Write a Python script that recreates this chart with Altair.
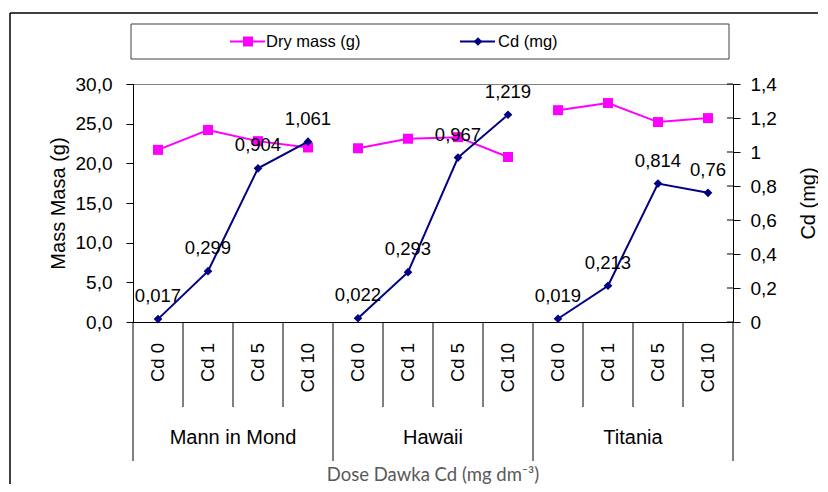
import altair as alt
import pandas as pd

cultivars = ["Mann in Mond", "Hawaii", "Titania"]
doses = ["Cd 0", "Cd 1", "Cd 5", "Cd 10"]
dry_mass = [21.7, 24.2, 22.8, 22.0, 21.9, 23.1, 23.3, 20.8, 26.7, 27.6, 25.2, 25.7]
cd_mg = [0.017, 0.299, 0.904, 1.061, 0.022, 0.293, 0.967, 1.219, 0.019, 0.213, 0.814, 0.76]
series = ["Dry mass (g)", "Cd (mg)"]
left_ticks = [0, 5, 10, 15, 20, 25, 30]
right_ticks = [0, 0.2, 0.4, 0.6, 0.8, 1, 1.2, 1.4]
x_title = "Dose Dawka Cd (mg dm\u207b\u00b3)"

PINK = "#FF00FF"
NAVY = "#000080"
FONT = "Liberation Sans"

rows = []
i = 0
for c in cultivars:
    for d in doses:
        rows.append({"pos": i + 0.5, "cultivar": c, "dose": d,
                     "mass": dry_mass[i], "cd": cd_mg[i],
                     "cdlab": f"{cd_mg[i]:g}".replace(".", ",")})
        i += 1
df = pd.DataFrame(rows)

n = len(df)
sep_small = pd.DataFrame({"b": [k for k in range(1, n) if k % len(doses) != 0]})
sep_group = pd.DataFrame({"b": [k * len(doses) for k in range(len(cultivars) + 1)]})
groups = pd.DataFrame({"cultivar": cultivars,
                       "mid": [k * len(doses) + len(doses) / 2 for k in range(len(cultivars))]})
rticks = pd.DataFrame({"v": right_ticks})

xscale = alt.Scale(domain=[0, n], nice=False, zero=False)
xenc = alt.X("pos:Q", scale=xscale,
             axis=alt.Axis(labels=False, ticks=False, grid=False, title=None,
                           domainColor="black", domainWidth=1))
W, H = 600, 238

left_axis = alt.Axis(orient="left", values=left_ticks, tickCount=len(left_ticks),
                     grid=False, labelOverlap=False,
                     labelExpr="replace(format(datum.value, '.1f'), '.', ',')",
                     labelFont=FONT, labelFontSize=19, labelColor="black",
                     tickColor="black", tickSize=7, labelPadding=14,
                     domainColor="black", title="Mass Masa (g)",
                     titleFont=FONT, titleFontSize=20, titleFontWeight="normal",
                     titleColor="black", titleX=-75, titleY=H / 2,
                     titleBaseline="middle", titleAlign="center", titleAngle=270)
right_axis = alt.Axis(orient="right", values=right_ticks, tickCount=len(right_ticks),
                      grid=False, labelOverlap=False,
                      labelExpr="replace(format(datum.value, '~g'), '.', ',')",
                      labelFont=FONT, labelFontSize=19, labelColor="black",
                      tickColor="black", tickSize=7, labelPadding=10,
                      domainColor="black", title="Cd (mg)", titleAngle=270,
                      titleFont=FONT, titleFontSize=20, titleFontWeight="normal",
                      titleColor="black", titleX=75, titleY=H / 2,
                      titleBaseline="middle", titleAlign="center")
mass_scale = alt.Scale(domain=[0, 30], nice=False)
cd_scale = alt.Scale(domain=[0, 1.4], nice=False)

base = alt.Chart(df)

mass_line = base.mark_line(color=PINK, strokeWidth=2).encode(
    x=xenc, y=alt.Y("mass:Q", scale=mass_scale, axis=left_axis), detail="cultivar:N")
mass_pts = base.mark_point(shape="square", filled=True, color=PINK, size=100,
                           opacity=1).encode(
    x="pos:Q", y=alt.Y("mass:Q", scale=mass_scale, axis=left_axis))
mass_layer = alt.layer(mass_line, mass_pts)

cd_line = base.mark_line(color=NAVY, strokeWidth=2).encode(
    x="pos:Q", y=alt.Y("cd:Q", scale=cd_scale, axis=right_axis), detail="cultivar:N")
cd_inticks = alt.Chart(rticks).mark_rule(color="black", strokeWidth=1).encode(
    x=alt.value(W - 6), x2=alt.value(W), y=alt.Y("v:Q", scale=cd_scale, axis=right_axis))
cd_pts = base.mark_point(shape="diamond", filled=True, color=NAVY, size=75,
                         opacity=1).encode(
    x="pos:Q", y=alt.Y("cd:Q", scale=cd_scale, axis=right_axis))
cd_text = base.mark_text(font=FONT, fontSize=18.5, color="black", dy=-23,
                         baseline="middle", align="center").encode(
    x="pos:Q", y=alt.Y("cd:Q", scale=cd_scale, axis=right_axis), text="cdlab:N")
cd_layer = alt.layer(cd_line, cd_inticks, cd_pts, cd_text)

small_rules = alt.Chart(sep_small).mark_rule(color="black", strokeWidth=1).encode(
    x=alt.X("b:Q"), y=alt.value(H), y2=alt.value(323))
group_rules = alt.Chart(sep_group).mark_rule(color="black", strokeWidth=1).encode(
    x=alt.X("b:Q"), y=alt.value(H), y2=alt.value(377))
dose_text = base.mark_text(font=FONT, fontSize=18.5, angle=270, align="right",
                           baseline="middle", color="black").encode(
    x="pos:Q", y=alt.value(259), text="dose:N")
group_text = alt.Chart(groups).mark_text(font=FONT, fontSize=20, baseline="middle",
                                         align="center", color="black").encode(
    x="mid:Q", y=alt.value(354), text="cultivar:N")
title_df = pd.DataFrame({"t": [x_title], "mid": [n / 2]})
title_text = alt.Chart(title_df).mark_text(font="Lato", fontSize=18.5, baseline="middle",
                                           align="center", color="#595959").encode(
    x="mid:Q", y=alt.value(391), text="t:N")

# frame and legend decoration
frame_top = alt.Chart(title_df).mark_rule(color="black", strokeWidth=1.5).encode(
    x=alt.value(-123), x2=alt.value(700), y=alt.value(-71))
frame_left = alt.Chart(title_df).mark_rule(color="black", strokeWidth=1.5).encode(
    x=alt.value(-123), y=alt.value(-71), y2=alt.value(420))
leg_box = alt.Chart(title_df).mark_rect(fill="white", stroke="#404040", strokeWidth=1).encode(
    x=alt.value(-2), x2=alt.value(596), y=alt.value(-60), y2=alt.value(-25))
leg_df = pd.DataFrame({"s": series})
LY = -42.5
leg_l1 = alt.Chart(leg_df).transform_filter(alt.datum.s == series[0]).mark_rule(
    color=PINK, strokeWidth=2).encode(x=alt.value(97), x2=alt.value(132), y=alt.value(LY))
leg_p1 = alt.Chart(leg_df).transform_filter(alt.datum.s == series[0]).mark_point(
    shape="square", filled=True, color=PINK, size=100, opacity=1).encode(
    x=alt.value(115), y=alt.value(LY))
leg_t1 = alt.Chart(leg_df).transform_filter(alt.datum.s == series[0]).mark_text(
    font=FONT, fontSize=16.5, align="left", baseline="middle", color="black").encode(
    x=alt.value(133), y=alt.value(LY), text="s:N")
leg_l2 = alt.Chart(leg_df).transform_filter(alt.datum.s == series[1]).mark_rule(
    color=NAVY, strokeWidth=2).encode(x=alt.value(327), x2=alt.value(362), y=alt.value(LY))
leg_p2 = alt.Chart(leg_df).transform_filter(alt.datum.s == series[1]).mark_point(
    shape="diamond", filled=True, color=NAVY, size=75, opacity=1).encode(
    x=alt.value(345), y=alt.value(LY))
leg_t2 = alt.Chart(leg_df).transform_filter(alt.datum.s == series[1]).mark_text(
    font=FONT, fontSize=16.5, align="left", baseline="middle", color="black").encode(
    x=alt.value(365), y=alt.value(LY), text="s:N")

chart = alt.layer(
    frame_top, frame_left, leg_box, leg_l1, leg_p1, leg_t1, leg_l2, leg_p2, leg_t2,
    small_rules, group_rules, dose_text, group_text, title_text,
    mass_layer, cd_layer
).resolve_scale(y="independent").properties(
    width=W, height=H,
    autosize=alt.AutoSizeParams(type="none"),
    padding={"left": 125, "top": 76, "right": 85, "bottom": 162},
    background="white"
).configure_view(stroke="#808080", strokeWidth=1).configure_axis(
    labelOverlap=False, labelFlush=False)

chart.save("out.html", embed_options={"renderer": "svg", "actions": False})
